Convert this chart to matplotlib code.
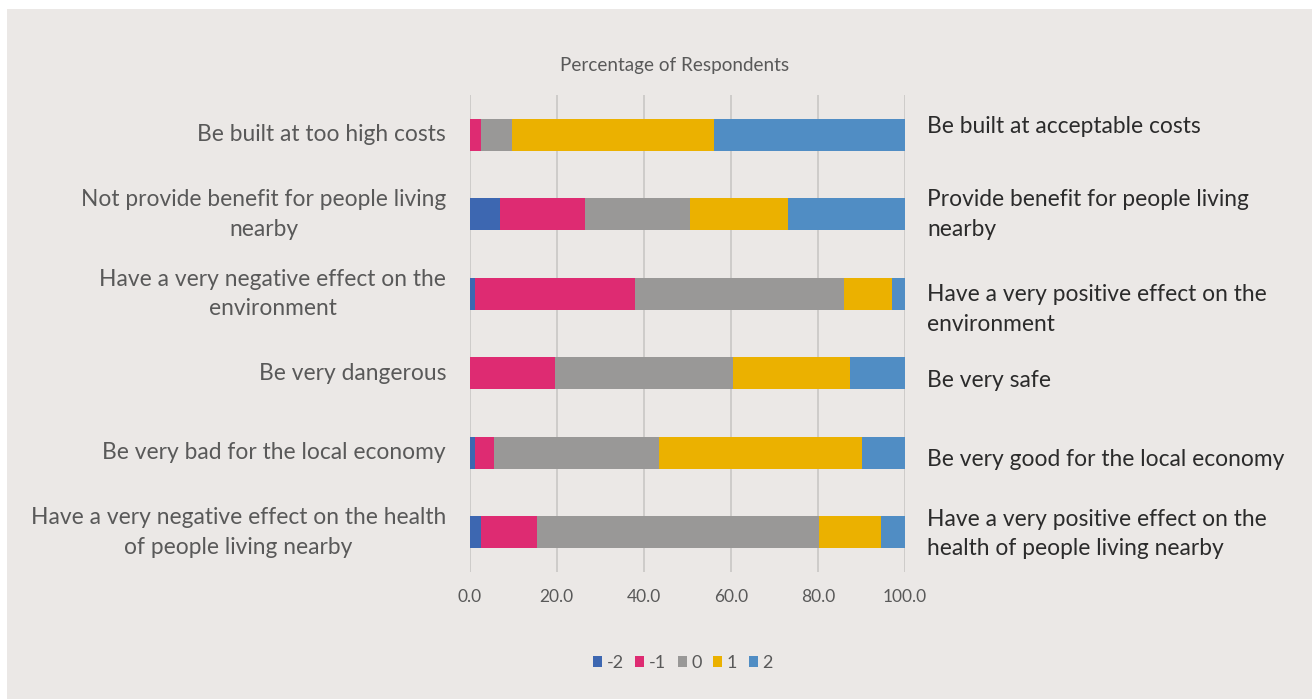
import matplotlib
matplotlib.use("Agg")
import matplotlib.pyplot as plt
from matplotlib.patches import Rectangle
import numpy as np

# Survey statements (negative pole on the left, positive pole on the right)
left_labels = [
    "Be built at too high costs",
    "Not provide benefit for people living\nnearby",
    "Have a very negative effect on the\nenvironment",
    "Be very dangerous",
    "Be very bad for the local economy",
    "Have a very negative effect on the health\nof people living nearby",
]
right_labels = [
    "Be built at acceptable costs",
    "Provide benefit for people living\nnearby",
    "Have a very positive effect on the\nenvironment",
    "Be very safe",
    "Be very good for the local economy",
    "Have a very positive effect on the\nhealth of people living nearby",
]

# Percentage of respondents for each rating, per statement
series_names = ["-2", "-1", "0", "1", "2"]
vals_m2 = [0.0, 6.9, 1.3, 0.0, 1.3, 2.6]
vals_m1 = [2.6, 19.7, 36.6, 19.7, 4.2, 12.8]
vals_0 = [7.1, 24.0, 48.0, 40.8, 38.0, 64.8]
vals_p1 = [46.5, 22.6, 11.2, 26.8, 46.6, 14.2]
vals_p2 = [43.8, 26.8, 2.9, 12.7, 9.9, 5.6]

x_ticks = [0, 20, 40, 60, 80, 100]
axis_title = "Percentage of Respondents"

colors = ["#3D67B1", "#DE2B72", "#999897", "#EBB100", "#508DC4"]
panel_bg = "#EBE8E6"
label_color = "#595959"
right_color = "#2B2B2B"

plt.rcParams["font.family"] = ["Lato", "DejaVu Sans"]

W, H = 1312, 699
fig = plt.figure(figsize=(W / 100, H / 100), dpi=100)
fig.patch.set_facecolor("white")
fig.patches.append(Rectangle((7 / W, 0), 1 - 7 / W, 1 - 9 / H,
                             transform=fig.transFigure, facecolor=panel_bg,
                             edgecolor="none", zorder=-10))

ax = fig.add_axes([469.7 / W, 1 - 572 / H, (905 - 469.7) / W, (572 - 95) / H])
ax.set_facecolor("none")

n = len(left_labels)
y = np.arange(n)
data = [vals_m2, vals_m1, vals_0, vals_p1, vals_p2]
left = np.zeros(n)
for name, vals, c in zip(series_names, data, colors):
    vals = np.array(vals)
    ax.barh(y, vals, left=left, height=0.4, color=c, label=name, zorder=3)
    left += vals

ax.set_xlim(0, 100)
ax.set_ylim(n - 0.5, -0.5)
ax.set_xticks(x_ticks)
ax.set_xticklabels([f"{t:.1f}" for t in x_ticks], fontsize=12.5, color=label_color)
ax.tick_params(axis="x", length=0, pad=12)
ax.set_yticks([])
for s in ax.spines.values():
    s.set_visible(False)
ax.grid(axis="x", color="#C9C7C5", linewidth=1.2, zorder=0)
ax.set_axisbelow(True)

# Statement labels on either side of the bars
for i, txt in enumerate(left_labels):
    ax.annotate(txt, xy=(0, i), xycoords=("axes fraction", "data"),
                xytext=(-17, 0), textcoords="offset points",
                ha="right", va="center", multialignment="center",
                fontsize=16.4, color=label_color, linespacing=1.5)

right_offsets = [-0.1, 0.0, 0.2, 0.09, 0.08, 0.02]
for i, (txt, off) in enumerate(zip(right_labels, right_offsets)):
    ax.annotate(txt, xy=(1, i + off), xycoords=("axes fraction", "data"),
                xytext=(16, 0), textcoords="offset points",
                ha="left", va="center", multialignment="left",
                fontsize=16.4, color=right_color, linespacing=1.5)

fig.text(674.5 / W, 1 - 65 / H, axis_title, ha="center", va="center",
         fontsize=13.6, color=label_color)

leg = fig.legend(loc="center", bbox_to_anchor=(683 / W, 1 - 663 / H), ncol=5,
                 frameon=False, fontsize=13, labelcolor=label_color,
                 handlelength=0.5, handleheight=0.5, handletextpad=0.25,
                 columnspacing=0.65)

fig.savefig("out.png", dpi=100, facecolor=fig.get_facecolor())
